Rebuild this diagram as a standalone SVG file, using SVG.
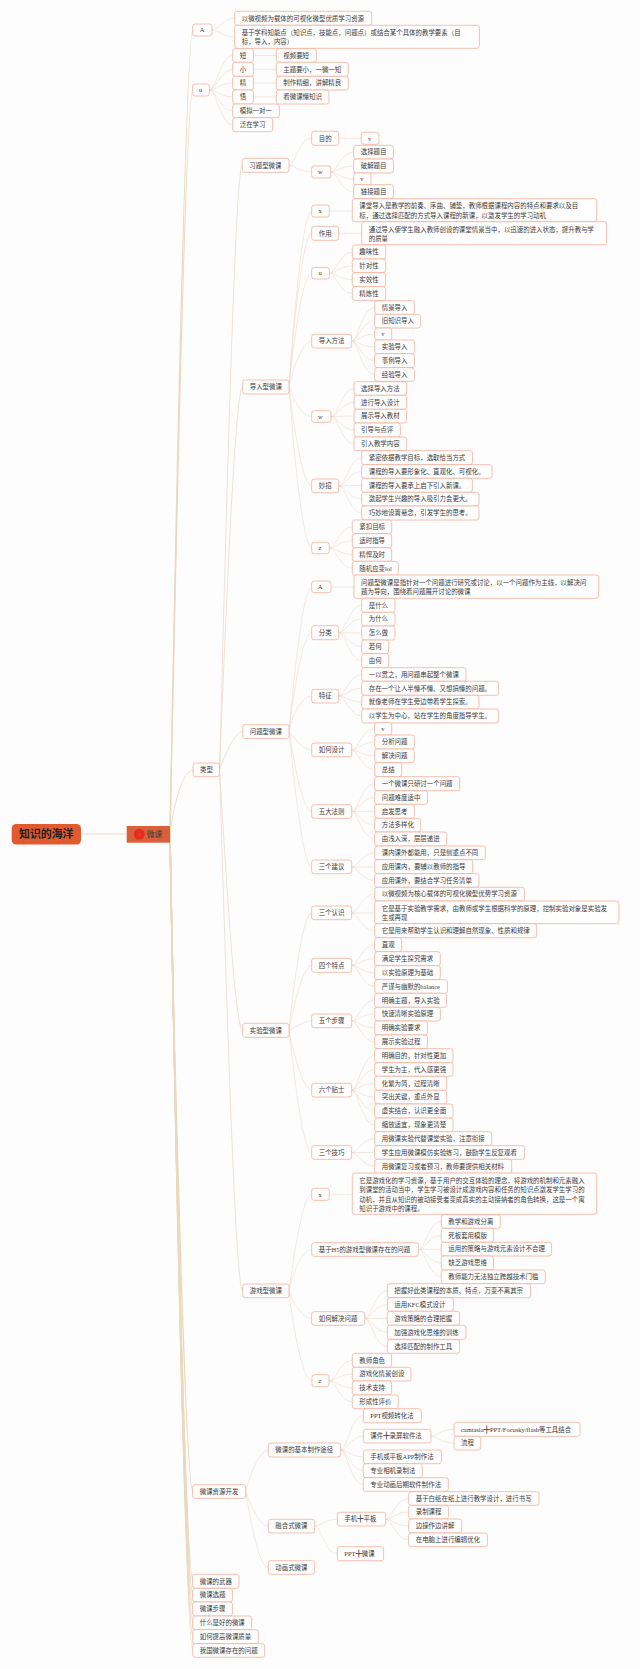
<svg xmlns="http://www.w3.org/2000/svg" width="640" height="1669" viewBox="0 0 640 1669">
<style>
text{font-family:"Liberation Serif","Noto Sans CJK SC",serif;font-size:6.45px;fill:#3a3a3a}
.n rect{fill:#fffefe;stroke:#f2b09a;stroke-width:.8}
#c path{fill:none;stroke:#e6dccb;stroke-width:.6}
#c .r{stroke:#ead9bd;stroke-width:1.4}
#c .t{stroke-width:.8}
</style>
<rect width="640" height="1669" fill="#fefdfd"/>
<g id="c">
<path d="M81 834H127" style="stroke:#e8cfc4;stroke-width:.8"/>
<path class="r" d="M170 835C173 674 185 30 193 30"/>
<path class="r" d="M170 835C173 686 185 90 193 90"/>
<path class="t r" d="M170 835C174 800 184 770 193 770"/>
<path class="r" d="M170 835C173 1000 185 1491.5 193 1491.5"/>
<path class="r" d="M170 835C173 1000 185 1581 193 1581"/>
<path class="r" d="M170 835C173 1000 185 1595 193 1595"/>
<path class="r" d="M170 835C173 1000 185 1609 193 1609"/>
<path class="r" d="M170 835C173 1000 185 1623 193 1623"/>
<path class="r" d="M170 835C173 1000 185 1637 193 1637"/>
<path class="r" d="M170 835C173 1000 185 1650.5 193 1650.5"/>
<path d="M212 30C218 30 224 18 234.7 18"/>
<path d="M212 30C218 30 224 37 234.7 37"/>
<path d="M209.3 90C216 90 221 55.5 232.7 55.5"/>
<path d="M209.3 90C216 90 221 69.3 232.7 69.3"/>
<path d="M209.3 90C216 90 221 83 232.7 83"/>
<path d="M209.3 90C216 90 221 97 232.7 97"/>
<path d="M209.3 90C216 90 221 111 232.7 111"/>
<path d="M209.3 90C216 90 221 124.7 232.7 124.7"/>
<path d="M253.3 55.5H276.3M253.3 69.3H276.3M253.3 83H276.3M253.3 97H276.3"/>
<path class="t" d="M219.5 770C223 650 234 165.3 242.3 165.3"/>
<path class="t" d="M219.5 770C223 690 234 387 242.7 387"/>
<path class="t" d="M219.5 770C223 760 234 731.5 242.7 731.5"/>
<path class="t" d="M219.5 770C223 820 234 1030.3 242.7 1030.3"/>
<path class="t" d="M219.5 770C223 870 234 1291 242.7 1291"/>
<path d="M289 165.3C295 165.3 299 138.3 311.7 138.3"/>
<path d="M289 165.3C295 165.3 299 172 311.7 172"/>
<path d="M338.7 138.3H361.3"/>
<path d="M330.7 172C337 172 341 152 353.7 152"/>
<path d="M330.7 172C337 172 341 166 353.7 166"/>
<path d="M330.7 172C337 172 341 179 353.7 179"/>
<path d="M330.7 172C337 172 341 191.7 353.7 191.7"/>
<path d="M289 387C292 340 302 211 311.7 211"/>
<path d="M289 387C292 345 302 233.3 311.7 233.3"/>
<path d="M289 387C292 355 302 273.2 311.7 273.2"/>
<path d="M289 387C292 372 302 341 311.7 341"/>
<path d="M289 387C292 398 302 416.5 311.7 416.5"/>
<path d="M289 387C292 415 302 486 311.7 486"/>
<path d="M289 387C292 430 302 548 311.7 548"/>
<path d="M329.3 211H352.3"/>
<path d="M338.7 233.3H361.7"/>
<path d="M329.3 273.2C336 273.2 340 252 352.3 252"/>
<path d="M329.3 273.2C336 273.2 340 266 352.3 266"/>
<path d="M329.3 273.2C336 273.2 340 279.7 352.3 279.7"/>
<path d="M329.3 273.2C336 273.2 340 293.5 352.3 293.5"/>
<path d="M351.7 341C358 341 362 307.5 374.7 307.5"/>
<path d="M351.7 341C358 341 362 321 374.7 321"/>
<path d="M351.7 341C358 341 362 334 374.7 334"/>
<path d="M351.7 341C358 341 362 347 374.7 347"/>
<path d="M351.7 341C358 341 362 360.7 374.7 360.7"/>
<path d="M351.7 341C358 341 362 374.5 374.7 374.5"/>
<path d="M331 416.5C338 416.5 342 388.5 354 388.5"/>
<path d="M331 416.5C338 416.5 342 402.3 354 402.3"/>
<path d="M331 416.5C338 416.5 342 416 354 416"/>
<path d="M331 416.5C338 416.5 342 430 354 430"/>
<path d="M331 416.5C338 416.5 342 443.8 354 443.8"/>
<path d="M338.7 486C345 486 350 457.7 361.7 457.7"/>
<path d="M338.7 486C345 486 350 471.5 361.7 471.5"/>
<path d="M338.7 486C345 486 350 485.3 361.7 485.3"/>
<path d="M338.7 486C345 486 350 499 361.7 499"/>
<path d="M338.7 486C345 486 350 513 361.7 513"/>
<path d="M329.3 548C336 548 340 526.8 352.3 526.8"/>
<path d="M329.3 548C336 548 340 540.7 352.3 540.7"/>
<path d="M329.3 548C336 548 340 554.5 352.3 554.5"/>
<path d="M329.3 548C336 548 340 568.3 352.3 568.3"/>
<path d="M289 731.5C292 700 302 587 311.7 587"/>
<path d="M289 731.5C292 705 302 632.7 311.7 632.7"/>
<path d="M289 731.5C292 715 302 696 311.7 696"/>
<path d="M289 731.5C292 735 302 750 311.7 750"/>
<path d="M289 731.5C292 750 302 811.5 311.7 811.5"/>
<path d="M289 731.5C292 760 302 867 311.7 867"/>
<path d="M331 587H354"/>
<path d="M338.7 632.7C345 632.7 350 605.3 361.7 605.3"/>
<path d="M338.7 632.7C345 632.7 350 619 361.7 619"/>
<path d="M338.7 632.7C345 632.7 350 633 361.7 633"/>
<path d="M338.7 632.7C345 632.7 350 646.8 361.7 646.8"/>
<path d="M338.7 632.7C345 632.7 350 660.7 361.7 660.7"/>
<path d="M338.7 696C345 696 350 674.5 361.7 674.5"/>
<path d="M338.7 696C345 696 350 688.3 361.7 688.3"/>
<path d="M338.7 696C345 696 350 702 361.7 702"/>
<path d="M338.7 696C345 696 350 716 361.7 716"/>
<path d="M351.7 750C358 750 362 728.8 374.7 728.8"/>
<path d="M351.7 750C358 750 362 742 374.7 742"/>
<path d="M351.7 750C358 750 362 755.8 374.7 755.8"/>
<path d="M351.7 750C358 750 362 769.7 374.7 769.7"/>
<path d="M351.7 811.5C358 811.5 362 783.7 374.7 783.7"/>
<path d="M351.7 811.5C358 811.5 362 797.5 374.7 797.5"/>
<path d="M351.7 811.5C358 811.5 362 811.3 374.7 811.3"/>
<path d="M351.7 811.5C358 811.5 362 825.2 374.7 825.2"/>
<path d="M351.7 811.5C358 811.5 362 839 374.7 839"/>
<path d="M351.7 867C358 867 362 852.8 374.7 852.8"/>
<path d="M351.7 867H374.7"/>
<path d="M351.7 867C358 867 362 880.5 374.7 880.5"/>
<path d="M289 1030.3C292 1000 302 913 311.7 913"/>
<path d="M289 1030.3C292 1015 302 965.3 311.7 965.3"/>
<path d="M289 1030.3C292 1030 302 1021 311.7 1021"/>
<path d="M289 1030.3C292 1045 302 1090 311.7 1090"/>
<path d="M289 1030.3C292 1055 302 1152.5 311.7 1152.5"/>
<path d="M351.7 913C358 913 362 894 374.7 894"/>
<path d="M351.7 913H374.7"/>
<path d="M351.7 913C358 913 362 930.7 374.7 930.7"/>
<path d="M351.7 965.3C358 965.3 362 944.7 374.7 944.7"/>
<path d="M351.7 965.3C358 965.3 362 958.8 374.7 958.8"/>
<path d="M351.7 965.3C358 965.3 362 972.7 374.7 972.7"/>
<path d="M351.7 965.3C358 965.3 362 986.5 374.7 986.5"/>
<path d="M351.7 1021C358 1021 362 1000.3 374.7 1000.3"/>
<path d="M351.7 1021C358 1021 362 1014 374.7 1014"/>
<path d="M351.7 1021C358 1021 362 1028 374.7 1028"/>
<path d="M351.7 1021C358 1021 362 1041.8 374.7 1041.8"/>
<path d="M351.7 1090C358 1090 362 1055.7 374.7 1055.7"/>
<path d="M351.7 1090C358 1090 362 1069.5 374.7 1069.5"/>
<path d="M351.7 1090C358 1090 362 1083.3 374.7 1083.3"/>
<path d="M351.7 1090C358 1090 362 1097 374.7 1097"/>
<path d="M351.7 1090C358 1090 362 1111 374.7 1111"/>
<path d="M351.7 1090C358 1090 362 1124.8 374.7 1124.8"/>
<path d="M351.7 1152.5C358 1152.5 362 1138.7 374.7 1138.7"/>
<path d="M351.7 1152.5H374.7"/>
<path d="M351.7 1152.5C358 1152.5 362 1166.3 374.7 1166.3"/>
<path d="M289 1291C292 1270 302 1194.3 311.7 1194.3"/>
<path d="M289 1291C292 1275 302 1249.5 311.7 1249.5"/>
<path d="M289 1291C292 1300 302 1318.5 311.7 1318.5"/>
<path d="M289 1291C292 1320 302 1380.7 311.7 1380.7"/>
<path d="M329.3 1194.3H352.3"/>
<path d="M418.3 1249.5C425 1249.5 429 1221.5 441.3 1221.5"/>
<path d="M418.3 1249.5C425 1249.5 429 1235.3 441.3 1235.3"/>
<path d="M418.3 1249.5C425 1249.5 429 1249.2 441.3 1249.2"/>
<path d="M418.3 1249.5C425 1249.5 429 1263 441.3 1263"/>
<path d="M418.3 1249.5C425 1249.5 429 1276.8 441.3 1276.8"/>
<path d="M364.7 1318.5C371 1318.5 375 1290.7 387.3 1290.7"/>
<path d="M364.7 1318.5C371 1318.5 375 1304.5 387.3 1304.5"/>
<path d="M364.7 1318.5H387.3"/>
<path d="M364.7 1318.5C371 1318.5 375 1332 387.3 1332"/>
<path d="M364.7 1318.5C371 1318.5 375 1346.5 387.3 1346.5"/>
<path d="M329 1380.7C336 1380.7 340 1360.3 352.3 1360.3"/>
<path d="M329 1380.7C336 1380.7 340 1374 352.3 1374"/>
<path d="M329 1380.7C336 1380.7 340 1388 352.3 1388"/>
<path d="M329 1380.7C336 1380.7 340 1401.8 352.3 1401.8"/>
<path d="M245.7 1491.5C249 1480 258 1450 268.3 1450"/>
<path d="M245.7 1491.5C249 1500 258 1526 268.3 1526"/>
<path d="M245.7 1491.5C249 1510 258 1567.5 268.3 1567.5"/>
<path d="M340.7 1450C347 1450 351 1415.7 363.3 1415.7"/>
<path d="M340.7 1450C347 1450 351 1436.2 363.3 1436.2"/>
<path d="M340.7 1450C347 1450 351 1456.8 363.3 1456.8"/>
<path d="M340.7 1450C347 1450 351 1470.7 363.3 1470.7"/>
<path d="M340.7 1450C347 1450 351 1484.5 363.3 1484.5"/>
<path d="M431 1436.2C437 1436.2 441 1429.3 454 1429.3"/>
<path d="M431 1436.2C437 1436.2 441 1443 454 1443"/>
<path d="M314.7 1526C321 1526 325 1519.2 337.3 1519.2"/>
<path d="M314.7 1526C321 1526 325 1553.7 337.3 1553.7"/>
<path d="M385.7 1519.2C392 1519.2 396 1498.5 408.7 1498.5"/>
<path d="M385.7 1519.2C392 1519.2 396 1512 408.7 1512"/>
<path d="M385.7 1519.2C392 1519.2 396 1526 408.7 1526"/>
<path d="M385.7 1519.2C392 1519.2 396 1539.8 408.7 1539.8"/>
</g>
<g id="root"><rect x="11.7" y="824" width="69.3" height="20.5" rx="4.5" fill="#e25a30"/><text x="19" y="838.2" style="font-size:10.9px;font-weight:700;fill:#222">知识的海洋</text></g>
<g id="weike"><rect x="126.7" y="826" width="43.3" height="16.7" fill="#d9603a"/><circle cx="139.3" cy="834.3" r="5.5" fill="#e62b1e"/><text x="138.5" y="835.8" style="font-size:4px;fill:#f08a70">1</text><text x="146.7" y="837" style="font-size:7.8px">微课</text></g>
<g class="n" id="A"><rect x="192.7" y="24" width="19.3" height="12" rx="2.5"/><text x="199.7" y="32.2">A</text></g>
<g class="n" id="A1"><rect x="234.7" y="11.3" width="137" height="14" rx="2.5"/><text x="241.7" y="20.5">以微视频为载体的可视化微型优质学习资源</text></g>
<g class="n" id="A2"><rect x="234.7" y="25.3" width="244.7" height="23" rx="2.5"/><text x="241.7" y="35">基于学科知能点（知识点，技能点，问题点）或结合某个具体的教学要素（目</text><text x="241.7" y="44.3">标，导入，内容）</text></g>
<g class="n" id="u"><rect x="192.7" y="84" width="16.6" height="12" rx="2.5"/><text x="199" y="92.2">u</text></g>
<g class="n" id="u1"><rect x="232.7" y="48.7" width="20.7" height="13.7" rx="2.5"/><text x="239.7" y="57.8">短</text></g>
<g class="n" id="u2"><rect x="232.7" y="62.3" width="20.7" height="14" rx="2.5"/><text x="239.7" y="71.5">小</text></g>
<g class="n" id="u3"><rect x="232.7" y="76.3" width="20.7" height="13.7" rx="2.5"/><text x="239.7" y="85.3">精</text></g>
<g class="n" id="u4"><rect x="232.7" y="90" width="20.7" height="14" rx="2.5"/><text x="239.7" y="99.2">悟</text></g>
<g class="n" id="u5"><rect x="232.7" y="104" width="46.7" height="13.7" rx="2.5"/><text x="239.7" y="113.2">模拟一对一</text></g>
<g class="n" id="u6"><rect x="232.7" y="117.7" width="40" height="14" rx="2.5"/><text x="239.7" y="127">泛在学习</text></g>
<g class="n" id="u1a"><rect x="276.3" y="48.7" width="40" height="13.7" rx="2.5"/><text x="283.3" y="57.8">视频要短</text></g>
<g class="n" id="u2a"><rect x="276.3" y="62.3" width="72" height="14" rx="2.5"/><text x="283.3" y="71.5">主题要小，一微一知</text></g>
<g class="n" id="u3a"><rect x="276.3" y="76.3" width="72" height="13.7" rx="2.5"/><text x="283.3" y="85.3">制作精细，讲解精良</text></g>
<g class="n" id="u4a"><rect x="276.3" y="90" width="52.7" height="14" rx="2.5"/><text x="283.3" y="99.2">看微课懂知识</text></g>
<g class="n" id="leixing"><rect x="193" y="763" width="26.5" height="13.7" rx="2.5"/><text x="200" y="772.2">类型</text></g>
<g class="n" id="xt"><rect x="242.3" y="158.3" width="46.7" height="14" rx="2.5"/><text x="249.3" y="167.5">习题型微课</text></g>
<g class="n" id="xt1"><rect x="311.7" y="131.3" width="27" height="14" rx="2.5"/><text x="318.7" y="140.5">目的</text></g>
<g class="n" id="xt1a"><rect x="361.3" y="132.3" width="17.7" height="12" rx="2.5"/><text x="368" y="140.5">v</text></g>
<g class="n" id="xt2"><rect x="311.7" y="166" width="19" height="12" rx="2.5"/><text x="318" y="174.2">w</text></g>
<g class="n" id="xt2a"><rect x="353.7" y="145.3" width="39.7" height="13.7" rx="2.5"/><text x="360.7" y="154.4">选择题目</text></g>
<g class="n" id="xt2b"><rect x="353.7" y="159" width="39.7" height="14" rx="2.5"/><text x="360.7" y="168.2">破解题目</text></g>
<g class="n" id="xt2c"><rect x="353.7" y="173" width="17.3" height="12" rx="2.5"/><text x="360.3" y="181.2">v</text></g>
<g class="n" id="xt2d"><rect x="353.7" y="184.7" width="39.7" height="14" rx="2.5"/><text x="360.7" y="194">链接题目</text></g>
<g class="n" id="dr"><rect x="242.7" y="380" width="46.3" height="14" rx="2.5"/><text x="249.7" y="389.2">导入型微课</text></g>
<g class="n" id="dr1"><rect x="311.7" y="205" width="17.6" height="12" rx="2.5"/><text x="318.5" y="213.2">x</text></g>
<g class="n" id="dr1a"><rect x="352.3" y="198.7" width="244.4" height="23" rx="2.5"/><text x="359.3" y="208.3">课堂导入是教学的前奏、序曲、铺垫，教师根据课程内容的特点和要求以及目</text><text x="359.3" y="217.6">标，通过选择匹配的方式导入课程的新课，以激发学生的学习动机</text></g>
<g class="n" id="dr2"><rect x="311.7" y="226.3" width="27" height="14" rx="2.5"/><text x="318.7" y="235.5">作用</text></g>
<g class="n" id="dr2a"><rect x="361.7" y="221.7" width="245" height="23" rx="2.5"/><text x="368.7" y="231.6">通过导入使学生融入教师创设的课堂情景当中，以迅速的进入状态，提升教与学</text><text x="368.7" y="240.9">的质量</text></g>
<g class="n" id="dr3"><rect x="311.7" y="267.4" width="17.6" height="11.6" rx="2.5"/><text x="318.5" y="275.4">u</text></g>
<g class="n" id="dr3a"><rect x="352.3" y="245" width="33.4" height="14" rx="2.5"/><text x="359.3" y="254.2">趣味性</text></g>
<g class="n" id="dr3b"><rect x="352.3" y="259" width="33.4" height="13.7" rx="2.5"/><text x="359.3" y="268">针对性</text></g>
<g class="n" id="dr3c"><rect x="352.3" y="272.7" width="33.4" height="14" rx="2.5"/><text x="359.3" y="281.9">实效性</text></g>
<g class="n" id="dr3d"><rect x="352.3" y="286.7" width="33.4" height="13.7" rx="2.5"/><text x="359.3" y="295.7">精炼性</text></g>
<g class="n" id="dr4"><rect x="311.7" y="334.3" width="40" height="13.7" rx="2.5"/><text x="318.7" y="343.3">导入方法</text></g>
<g class="n" id="dr4a"><rect x="374.7" y="300.7" width="39.7" height="13.7" rx="2.5"/><text x="381.7" y="309.8">情景导入</text></g>
<g class="n" id="dr4b"><rect x="374.7" y="314.3" width="46" height="13.7" rx="2.5"/><text x="381.7" y="323.3">旧知识导入</text></g>
<g class="n" id="dr4c"><rect x="374.7" y="328" width="17" height="12" rx="2.5"/><text x="381.2" y="336.2">v</text></g>
<g class="n" id="dr4d"><rect x="374.7" y="340" width="39.7" height="13.7" rx="2.5"/><text x="381.7" y="349.2">实验导入</text></g>
<g class="n" id="dr4e"><rect x="374.7" y="353.7" width="39.7" height="14" rx="2.5"/><text x="381.7" y="362.9">事例导入</text></g>
<g class="n" id="dr4f"><rect x="374.7" y="367.7" width="39.7" height="13.6" rx="2.5"/><text x="381.7" y="376.7">经验导入</text></g>
<g class="n" id="dr5"><rect x="311.7" y="410.7" width="19.3" height="11.6" rx="2.5"/><text x="318" y="418.7">w</text></g>
<g class="n" id="dr5a"><rect x="354" y="381.7" width="52.7" height="13.6" rx="2.5"/><text x="361" y="390.7">选择导入方法</text></g>
<g class="n" id="dr5b"><rect x="354" y="395.3" width="52.7" height="14" rx="2.5"/><text x="361" y="404.5">进行导入设计</text></g>
<g class="n" id="dr5c"><rect x="354" y="409.3" width="52.7" height="13.7" rx="2.5"/><text x="361" y="418.3">展示导入教材</text></g>
<g class="n" id="dr5d"><rect x="354" y="423" width="46.3" height="14" rx="2.5"/><text x="361" y="432.2">引导与点评</text></g>
<g class="n" id="dr5e"><rect x="354" y="437" width="52.7" height="13.7" rx="2.5"/><text x="361" y="446">引入教学内容</text></g>
<g class="n" id="dr6"><rect x="311.7" y="479" width="27" height="13.7" rx="2.5"/><text x="318.7" y="488">妙招</text></g>
<g class="n" id="dr6a"><rect x="361.7" y="450.7" width="110.7" height="14" rx="2.5"/><text x="368.7" y="459.9">紧密依据教学目标，选取恰当方式</text></g>
<g class="n" id="dr6b"><rect x="361.7" y="464.7" width="130.3" height="13.6" rx="2.5"/><text x="368.7" y="473.7">课程的导入要形象化、直观化、可视化。</text></g>
<g class="n" id="dr6c"><rect x="361.7" y="478.3" width="110.7" height="14" rx="2.5"/><text x="368.7" y="487.5">课程的导入要承上启下引入新课。</text></g>
<g class="n" id="dr6d"><rect x="361.7" y="492.3" width="117.3" height="13.7" rx="2.5"/><text x="368.7" y="501.3">激起学生兴趣的导入吸引力会更大。</text></g>
<g class="n" id="dr6e"><rect x="361.7" y="506" width="117.3" height="14" rx="2.5"/><text x="368.7" y="515.2">巧妙地设置悬念，引发学生的思考。</text></g>
<g class="n" id="dr7"><rect x="311.7" y="542.3" width="17.6" height="11.4" rx="2.5"/><text x="318.5" y="550.2">z</text></g>
<g class="n" id="dr7a"><rect x="352.3" y="520" width="39.4" height="13.7" rx="2.5"/><text x="359.3" y="529">紧扣目标</text></g>
<g class="n" id="dr7b"><rect x="352.3" y="533.7" width="39.4" height="14" rx="2.5"/><text x="359.3" y="542.9">适时指导</text></g>
<g class="n" id="dr7c"><rect x="352.3" y="547.7" width="39.4" height="13.6" rx="2.5"/><text x="359.3" y="556.7">精悍及时</text></g>
<g class="n" id="dr7d"><rect x="352.3" y="561.3" width="46" height="14" rx="2.5"/><text x="359.3" y="570.5">随机应变lol</text></g>
<g class="n" id="wt"><rect x="242.7" y="724.7" width="46.3" height="13.7" rx="2.5"/><text x="249.7" y="733.7">问题型微课</text></g>
<g class="n" id="wt1"><rect x="311.7" y="581" width="19.3" height="11.7" rx="2.5"/><text x="317.7" y="589.2">A</text></g>
<g class="n" id="wt1a"><rect x="354" y="575" width="244.7" height="23.3" rx="2.5"/><text x="361" y="584.7">问题型微课是指针对一个问题进行研究或讨论，以一个问题作为主线，以解决问</text><text x="361" y="594">题为导向，围绕着问题展开讨论的微课</text></g>
<g class="n" id="wt2"><rect x="311.7" y="625.7" width="27" height="14" rx="2.5"/><text x="318.7" y="634.9">分类</text></g>
<g class="n" id="wt2a"><rect x="361.7" y="598.3" width="33.3" height="14" rx="2.5"/><text x="368.7" y="607.5">是什么</text></g>
<g class="n" id="wt2b"><rect x="361.7" y="612.3" width="33.3" height="13.7" rx="2.5"/><text x="368.7" y="621.3">为什么</text></g>
<g class="n" id="wt2c"><rect x="361.7" y="626" width="33.3" height="14" rx="2.5"/><text x="368.7" y="635.2">怎么做</text></g>
<g class="n" id="wt2d"><rect x="361.7" y="640" width="27" height="13.7" rx="2.5"/><text x="368.7" y="649">若何</text></g>
<g class="n" id="wt2e"><rect x="361.7" y="653.7" width="27" height="14" rx="2.5"/><text x="368.7" y="662.9">由何</text></g>
<g class="n" id="wt3"><rect x="311.7" y="689.3" width="27" height="13.7" rx="2.5"/><text x="318.7" y="698.3">特征</text></g>
<g class="n" id="wt3a"><rect x="361.7" y="667.7" width="104.3" height="13.6" rx="2.5"/><text x="368.7" y="676.7">一以贯之，用问题串起整个微课</text></g>
<g class="n" id="wt3b"><rect x="361.7" y="681.3" width="137" height="14" rx="2.5"/><text x="368.7" y="690.5">存在一个让人半懂不懂、又想搞懂的问题。</text></g>
<g class="n" id="wt3c"><rect x="361.7" y="695.3" width="117.3" height="13.7" rx="2.5"/><text x="368.7" y="704.3">就像老师在学生旁边带着学生探索。</text></g>
<g class="n" id="wt3d"><rect x="361.7" y="709" width="137" height="14" rx="2.5"/><text x="368.7" y="718.2">以学生为中心，站在学生的角度指导学生。</text></g>
<g class="n" id="wt4"><rect x="311.7" y="743" width="40" height="13.7" rx="2.5"/><text x="318.7" y="752">如何设计</text></g>
<g class="n" id="wt4a"><rect x="374.7" y="722.7" width="17" height="12.3" rx="2.5"/><text x="381.2" y="731">v</text></g>
<g class="n" id="wt4b"><rect x="374.7" y="735" width="39.6" height="14" rx="2.5"/><text x="381.7" y="744.2">分析问题</text></g>
<g class="n" id="wt4c"><rect x="374.7" y="749" width="39.6" height="13.7" rx="2.5"/><text x="381.7" y="758">解决问题</text></g>
<g class="n" id="wt4d"><rect x="374.7" y="762.7" width="27" height="14" rx="2.5"/><text x="381.7" y="771.9">总结</text></g>
<g class="n" id="wt5"><rect x="311.7" y="804.7" width="40" height="13.6" rx="2.5"/><text x="318.7" y="813.7">五大法则</text></g>
<g class="n" id="wt5a"><rect x="374.7" y="776.7" width="85" height="14" rx="2.5"/><text x="381.7" y="785.9">一个微课只研讨一个问题</text></g>
<g class="n" id="wt5b"><rect x="374.7" y="790.7" width="52.7" height="13.6" rx="2.5"/><text x="381.7" y="799.7">问题难度适中</text></g>
<g class="n" id="wt5c"><rect x="374.7" y="804.3" width="39.6" height="14" rx="2.5"/><text x="381.7" y="813.5">启发思考</text></g>
<g class="n" id="wt5d"><rect x="374.7" y="818.3" width="46" height="13.7" rx="2.5"/><text x="381.7" y="827.3">方法多样化</text></g>
<g class="n" id="wt5e"><rect x="374.7" y="832" width="72" height="14" rx="2.5"/><text x="381.7" y="841.2">由浅入深，层层递进</text></g>
<g class="n" id="wt6"><rect x="311.7" y="860" width="40" height="13.7" rx="2.5"/><text x="318.7" y="869">三个建议</text></g>
<g class="n" id="wt6a"><rect x="374.7" y="846" width="110.7" height="13.7" rx="2.5"/><text x="381.7" y="855">课内课外都能用，只是侧重点不同</text></g>
<g class="n" id="wt6b"><rect x="374.7" y="859.7" width="98" height="14" rx="2.5"/><text x="381.7" y="868.9">应用课内，要辅以教师的指导</text></g>
<g class="n" id="wt6c"><rect x="374.7" y="873.7" width="104.3" height="13.6" rx="2.5"/><text x="381.7" y="882.7">应用课外，要结合学习任务清单</text></g>
<g class="n" id="sy"><rect x="242.7" y="1023.3" width="46.3" height="14" rx="2.5"/><text x="249.7" y="1032.5">实验型微课</text></g>
<g class="n" id="sy1"><rect x="311.7" y="906" width="40" height="13.7" rx="2.5"/><text x="318.7" y="915">三个认识</text></g>
<g class="n" id="sy1a"><rect x="374.7" y="887.3" width="149.7" height="13.7" rx="2.5"/><text x="381.7" y="896.3">以微视频为核心载体的可视化微型优势学习资源</text></g>
<g class="n" id="sy1b"><rect x="374.7" y="901" width="244.3" height="22.7" rx="2.5"/><text x="381.7" y="910.6">它是基于实验教学需求，由教师或学生根据科学的原理，控制实验对象是实验发</text><text x="381.7" y="919.9">生或再现</text></g>
<g class="n" id="sy1c"><rect x="374.7" y="923.7" width="162" height="14" rx="2.5"/><text x="381.7" y="932.9">它是用来帮助学生认识和理解自然现象、性质和规律</text></g>
<g class="n" id="sy2"><rect x="311.7" y="958.3" width="40" height="14" rx="2.5"/><text x="318.7" y="967.5">四个特点</text></g>
<g class="n" id="sy2a"><rect x="374.7" y="937.7" width="27" height="14" rx="2.5"/><text x="381.7" y="946.9">直观</text></g>
<g class="n" id="sy2b"><rect x="374.7" y="951.7" width="65.6" height="14" rx="2.5"/><text x="381.7" y="960.9">满足学生探究需求</text></g>
<g class="n" id="sy2c"><rect x="374.7" y="965.7" width="65.6" height="14" rx="2.5"/><text x="381.7" y="974.9">以实验原理为基础</text></g>
<g class="n" id="sy2d"><rect x="374.7" y="979.7" width="72.7" height="13.6" rx="2.5"/><text x="381.7" y="988.7">严谨与幽默的balance</text></g>
<g class="n" id="sy3"><rect x="311.7" y="1014" width="40" height="13.7" rx="2.5"/><text x="318.7" y="1023">五个步骤</text></g>
<g class="n" id="sy3a"><rect x="374.7" y="993.3" width="72" height="14" rx="2.5"/><text x="381.7" y="1002.5">明确主题，导入实验</text></g>
<g class="n" id="sy3b"><rect x="374.7" y="1007.3" width="65.7" height="13.7" rx="2.5"/><text x="381.7" y="1016.3">快速清晰实验原理</text></g>
<g class="n" id="sy3c"><rect x="374.7" y="1021" width="52.7" height="14" rx="2.5"/><text x="381.7" y="1030.2">明确实验要求</text></g>
<g class="n" id="sy3d"><rect x="374.7" y="1035" width="52.7" height="13.7" rx="2.5"/><text x="381.7" y="1044">展示实验过程</text></g>
<g class="n" id="sy4"><rect x="311.7" y="1083.3" width="40" height="13.7" rx="2.5"/><text x="318.7" y="1092.3">六个贴士</text></g>
<g class="n" id="sy4a"><rect x="374.7" y="1048.7" width="78.3" height="14" rx="2.5"/><text x="381.7" y="1057.9">明确目的，针对性更加</text></g>
<g class="n" id="sy4b"><rect x="374.7" y="1062.7" width="78.3" height="13.6" rx="2.5"/><text x="381.7" y="1071.7">学生为主，代入感更强</text></g>
<g class="n" id="sy4c"><rect x="374.7" y="1076.3" width="72" height="14" rx="2.5"/><text x="381.7" y="1085.5">化繁为简，过程清晰</text></g>
<g class="n" id="sy4d"><rect x="374.7" y="1090.3" width="72" height="13.7" rx="2.5"/><text x="381.7" y="1099.3">突出关键，重点外显</text></g>
<g class="n" id="sy4e"><rect x="374.7" y="1104" width="78.3" height="14" rx="2.5"/><text x="381.7" y="1113.2">虚实结合，认识更全面</text></g>
<g class="n" id="sy4f"><rect x="374.7" y="1118" width="78.3" height="13.7" rx="2.5"/><text x="381.7" y="1127">缩放适宜，现象更清楚</text></g>
<g class="n" id="sy5"><rect x="311.7" y="1145.7" width="40" height="13.6" rx="2.5"/><text x="318.7" y="1154.7">三个技巧</text></g>
<g class="n" id="sy5a"><rect x="374.7" y="1131.7" width="117" height="14" rx="2.5"/><text x="381.7" y="1140.9">用微课实验代替课堂实验，注意衔接</text></g>
<g class="n" id="sy5b"><rect x="374.7" y="1145.7" width="150" height="13.6" rx="2.5"/><text x="381.7" y="1154.7">学生应用微课模仿实验练习，鼓励学生反复观看</text></g>
<g class="n" id="sy5c"><rect x="374.7" y="1159.3" width="137" height="14" rx="2.5"/><text x="381.7" y="1168.5">用微课复习或者预习，教师要提供相关材料</text></g>
<g class="n" id="yx"><rect x="242.7" y="1284" width="46.3" height="13.7" rx="2.5"/><text x="249.7" y="1293">游戏型微课</text></g>
<g class="n" id="yx1"><rect x="311.7" y="1188.3" width="17.6" height="12" rx="2.5"/><text x="318.5" y="1196.5">x</text></g>
<g class="n" id="yx1a"><rect x="352.3" y="1173" width="244.4" height="41.3" rx="2.5"/><text x="359.3" y="1183">它是游戏化的学习资源，基于用户的交互体验的理念，将游戏的机制和元素融入</text><text x="359.3" y="1192.3">到课堂的活动当中，学生学习被设计成游戏内容和任务的知识点激发学生学习的</text><text x="359.3" y="1201.6">动机，并且从知识的被动接受者变成真实的主动接纳者的角色转换，这是一个寓</text><text x="359.3" y="1210.9">知识于游戏中的课程。</text></g>
<g class="n" id="yx2"><rect x="311.7" y="1242.7" width="106.6" height="13.6" rx="2.5"/><text x="318.7" y="1251.7">基于H5的游戏型微课存在的问题</text></g>
<g class="n" id="yx2a"><rect x="441.3" y="1214.7" width="59" height="13.6" rx="2.5"/><text x="448.3" y="1223.7">教学和游戏分离</text></g>
<g class="n" id="yx2b"><rect x="441.3" y="1228.3" width="52.3" height="14" rx="2.5"/><text x="448.3" y="1237.5">死板套用模版</text></g>
<g class="n" id="yx2c"><rect x="441.3" y="1242.3" width="110.3" height="13.7" rx="2.5"/><text x="448.3" y="1251.3">运用的策略与游戏元素设计不合理</text></g>
<g class="n" id="yx2d"><rect x="441.3" y="1256" width="52.3" height="14" rx="2.5"/><text x="448.3" y="1265.2">缺乏游戏思维</text></g>
<g class="n" id="yx2e"><rect x="441.3" y="1270" width="104" height="13.7" rx="2.5"/><text x="448.3" y="1279">教师能力无法独立跨越技术门槛</text></g>
<g class="n" id="yx3"><rect x="311.7" y="1311.7" width="53" height="13.6" rx="2.5"/><text x="318.7" y="1320.7">如何解决问题</text></g>
<g class="n" id="yx3a"><rect x="387.3" y="1283.7" width="143.3" height="14" rx="2.5"/><text x="394.3" y="1292.9">把握好此类课程的本质、特点，万变不离其宗</text></g>
<g class="n" id="yx3b"><rect x="387.3" y="1297.7" width="66" height="13.6" rx="2.5"/><text x="394.3" y="1306.7">运用KFC模式设计</text></g>
<g class="n" id="yx3c"><rect x="387.3" y="1311.3" width="72.3" height="14" rx="2.5"/><text x="394.3" y="1320.5">游戏策略的合理把握</text></g>
<g class="n" id="yx3d"><rect x="387.3" y="1325.3" width="78.7" height="14" rx="2.5"/><text x="394.3" y="1334.5">加强游戏化思维的训练</text></g>
<g class="n" id="yx3e"><rect x="387.3" y="1339.7" width="72.3" height="13.6" rx="2.5"/><text x="394.3" y="1348.7">选择匹配的制作工具</text></g>
<g class="n" id="yx4"><rect x="312" y="1374.7" width="17" height="12" rx="2.5"/><text x="318.5" y="1382.9">z</text></g>
<g class="n" id="yx4a"><rect x="352.3" y="1353.3" width="39.3" height="14" rx="2.5"/><text x="359.3" y="1362.5">教师角色</text></g>
<g class="n" id="yx4b"><rect x="352.3" y="1367.3" width="58.7" height="13.7" rx="2.5"/><text x="359.3" y="1376.3">游戏化情景创设</text></g>
<g class="n" id="yx4c"><rect x="352.3" y="1381" width="39.3" height="14" rx="2.5"/><text x="359.3" y="1390.2">技术支持</text></g>
<g class="n" id="yx4d"><rect x="352.3" y="1395" width="46" height="13.7" rx="2.5"/><text x="359.3" y="1404">形成性评价</text></g>
<g class="n" id="zy"><rect x="192.7" y="1484.7" width="53" height="13.6" rx="2.5"/><text x="199.7" y="1493.7">微课资源开发</text></g>
<g class="n" id="zy1"><rect x="268.3" y="1443" width="72.4" height="14" rx="2.5"/><text x="275.3" y="1452.2">微课的基本制作途径</text></g>
<g class="n" id="zy1a"><rect x="363.3" y="1408.7" width="58" height="14" rx="2.5"/><text x="370.3" y="1417.9">PPT视频转化法</text></g>
<g class="n" id="zy1b"><rect x="363.3" y="1429.3" width="67.7" height="13.7" rx="2.5"/><text x="370.3" y="1438.4">课件╋录屏软件法</text></g>
<g class="n" id="zy1b1"><rect x="454" y="1422.3" width="126" height="14" rx="2.5"/><text x="461" y="1431.5">camtasia╋PPT/Focusky/flash等工具结合</text></g>
<g class="n" id="zy1b2"><rect x="454" y="1436.3" width="26.7" height="13.7" rx="2.5"/><text x="461" y="1445.3">流程</text></g>
<g class="n" id="zy1c"><rect x="363.3" y="1450" width="78" height="13.7" rx="2.5"/><text x="370.3" y="1459">手机或平板APP制作法</text></g>
<g class="n" id="zy1d"><rect x="363.3" y="1463.7" width="59" height="14" rx="2.5"/><text x="370.3" y="1472.9">专业相机录制法</text></g>
<g class="n" id="zy1e"><rect x="363.3" y="1477.7" width="85" height="13.6" rx="2.5"/><text x="370.3" y="1486.7">专业动画后期软件制作法</text></g>
<g class="n" id="zy2"><rect x="268.3" y="1519.3" width="46.4" height="13.7" rx="2.5"/><text x="275.3" y="1528.3">融合式微课</text></g>
<g class="n" id="zy2a"><rect x="337.3" y="1512.3" width="48.4" height="13.7" rx="2.5"/><text x="344.3" y="1521.3">手机╋平板</text></g>
<g class="n" id="zy2a1"><rect x="408.7" y="1491.7" width="130.3" height="13.6" rx="2.5"/><text x="415.7" y="1500.7">基于白纸在纸上进行教学设计，进行书写</text></g>
<g class="n" id="zy2a2"><rect x="408.7" y="1505.3" width="39.7" height="13.7" rx="2.5"/><text x="415.7" y="1514.3">录制课程</text></g>
<g class="n" id="zy2a3"><rect x="408.7" y="1519" width="53" height="14" rx="2.5"/><text x="415.7" y="1528.2">边操作边讲解</text></g>
<g class="n" id="zy2a4"><rect x="408.7" y="1533" width="78.7" height="13.7" rx="2.5"/><text x="415.7" y="1542">在电脑上进行编辑优化</text></g>
<g class="n" id="zy2b"><rect x="337.3" y="1546.7" width="46.3" height="14" rx="2.5"/><text x="344.3" y="1555.9">PPT╋微课</text></g>
<g class="n" id="zy3"><rect x="268.3" y="1560.7" width="46.4" height="13.6" rx="2.5"/><text x="275.3" y="1569.7">动画式微课</text></g>
<g class="n" id="l1"><rect x="192.7" y="1574.3" width="46.3" height="14" rx="2.5"/><text x="199.7" y="1583.5">微课的武器</text></g>
<g class="n" id="l2"><rect x="192.7" y="1588.3" width="39.7" height="13.7" rx="2.5"/><text x="199.7" y="1597.3">微课选题</text></g>
<g class="n" id="l3"><rect x="192.7" y="1602" width="39.7" height="14" rx="2.5"/><text x="199.7" y="1611.2">微课步骤</text></g>
<g class="n" id="l4"><rect x="192.7" y="1616" width="59" height="13.7" rx="2.5"/><text x="199.7" y="1625">什么是好的微课</text></g>
<g class="n" id="l5"><rect x="192.7" y="1629.7" width="65.7" height="14" rx="2.5"/><text x="199.7" y="1638.9">如何提高微课质量</text></g>
<g class="n" id="l6"><rect x="192.7" y="1643.7" width="72" height="13.6" rx="2.5"/><text x="199.7" y="1652.7">我国微课存在的问题</text></g>
</svg>
